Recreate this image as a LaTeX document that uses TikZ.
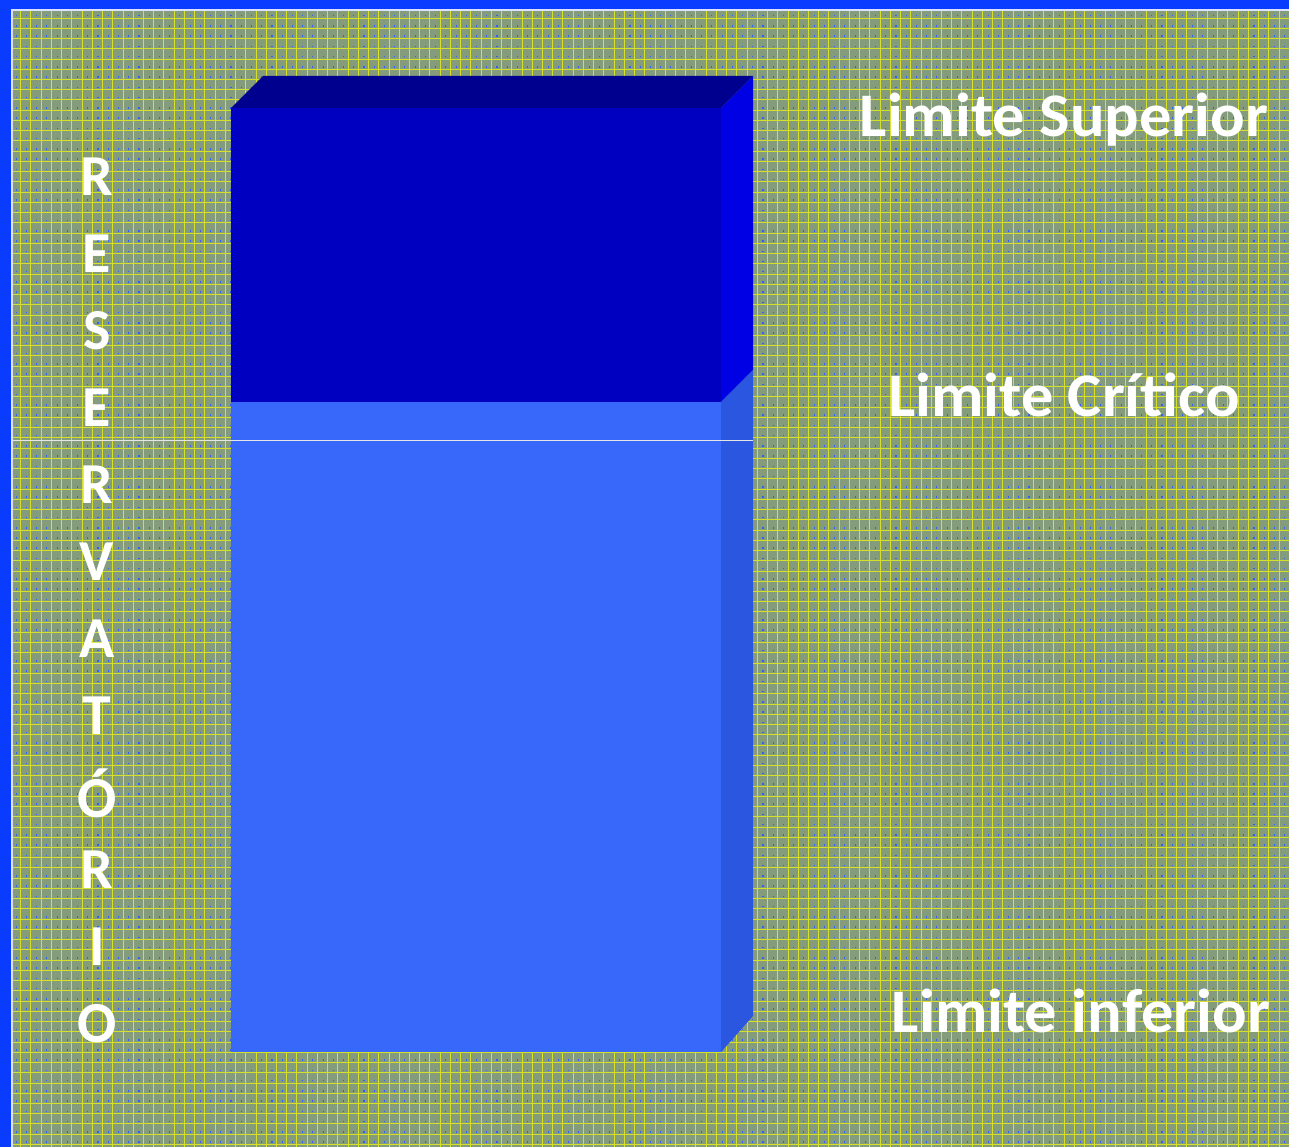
\documentclass[tikz,border=0pt]{standalone}
\usepackage{fontspec}
\setmainfont{Carlito}
\definecolor{bgbase}{HTML}{849C7C}
\definecolor{gridyel}{HTML}{D6E02A}
\definecolor{dotblue}{HTML}{3060F0}
\definecolor{frameblue}{HTML}{0A3CFF}
\definecolor{topface}{HTML}{00008E}
\definecolor{frontdark}{HTML}{0000C0}
\definecolor{sidedark}{HTML}{0000E4}
\definecolor{frontlight}{HTML}{3868FA}
\definecolor{sidelight}{HTML}{2B56E0}
\tikzset{
  lbl/.style={text=white, font=\fontsize{62}{62}\selectfont\bfseries, inner sep=0pt, anchor=base, xscale=1.04},
  vlet/.style={text=white, font=\fontsize{58}{58}\selectfont\bfseries, inner sep=0pt, anchor=center},
}
\begin{document}
\begin{tikzpicture}[x=1pt,y=-1pt]
\useasboundingbox (0,0) rectangle (1289,1147);
% frame
\fill[frameblue] (0,0) rectangle (1289,1147);
\fill[white!85!frameblue] (11,9) rectangle (1289,1147);
\fill[bgbase] (13,11) rectangle (1289,1147);
% grid
\begin{scope}
\clip (13,11) rectangle (1289,1147);
\foreach \i in {0,...,124} {
  \pgfmathsetmacro{\gx}{20.7+10.23*\i}
  \draw[gridyel, line width=0.9pt] (\gx,11) -- (\gx,1147);
  \draw[dotblue, line width=1.1pt, dash pattern=on 1.5pt off 8.74pt, dash phase=-4pt] (\gx-4.5,11) -- (\gx-4.5,1147);
}
\foreach \j in {0,...,112} {
  \pgfmathsetmacro{\gy}{18+10.24*\j}
  \draw[gridyel, line width=0.9pt] (13,\gy) -- (1289,\gy);
}
\end{scope}
% reservoir box
\coordinate (ftl) at (231,108);
\coordinate (ftr) at (721,108);
\coordinate (btl) at (263,76);
\coordinate (btr) at (753,76);
\coordinate (fml) at (231,402);
\coordinate (fmr) at (721,402);
\coordinate (bmr) at (753,370);
\coordinate (fbl) at (231,1052);
\coordinate (fbr) at (721,1052);
\coordinate (bbr) at (753,1016);
\fill[topface] (ftl) -- (btl) -- (btr) -- (ftr) -- cycle;
\fill[frontdark] (ftl) rectangle (fmr);
\fill[sidedark] (ftr) -- (btr) -- (bmr) -- (fmr) -- cycle;
\fill[frontlight] (fml) rectangle (fbr);
\fill[sidelight] (fmr) -- (bmr) -- (bbr) -- (fbr) -- cycle;
% thin line
\coordinate (la) at (13,440.5);
\coordinate (lb) at (753,440.5);
\draw[white!80!gray, line width=0.8pt] (la) -- (lb);
% labels
\node[lbl] (sup) at (1064,137) {Limite Superior};
\node[lbl] (cri) at (1064,416) {Limite Crítico};
\node[lbl] (inf) at (1081,1032) {Limite inferior};
% vertical word
\foreach \L [count=\k from 0] in {R,E,S,E,R,V,A,T,Ó,R,I,O} {
  \node[vlet] (v\k) at (97,{177+77*\k}) {\L};
}
\end{tikzpicture}
\end{document}
